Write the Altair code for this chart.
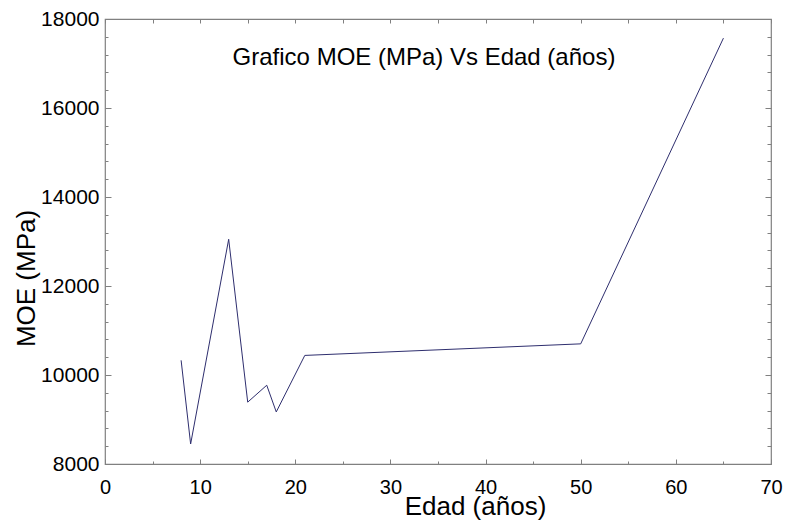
import altair as alt
import pandas as pd

# Data
edad = [8, 9, 13, 15, 17, 18, 21, 50, 65]
moe = [10330, 8450, 13050, 9390, 9770, 9170, 10440, 10700, 17570]

x_major = [0, 10, 20, 30, 40, 50, 60, 70]
x_minor = [5, 15, 25, 35, 45, 55, 65]
x_all = list(range(0, 71, 5))
y_major = [8000, 10000, 12000, 14000, 16000, 18000]
y_all = list(range(8000, 18001, 400))
y_minor = [v for v in y_all if v % 2000 != 0]

df = pd.DataFrame({"edad": edad, "moe": moe})

FONT = "Liberation Sans"
GRAY = "#808080"
LINE = "#2e2e6e"

xs = alt.Scale(domain=[0, 70], nice=False, zero=False)
ys = alt.Scale(domain=[8000, 18000], nice=False, zero=False)


def tick_axis(orient, values, size):
    return alt.Axis(orient=orient, values=values, labels=False, domain=False,
                    grid=False, ticks=True, tickSize=alt.ExprRef(expr=str(-size)),
                    tickColor=GRAY, tickWidth=1, title=None)


main = alt.Chart(df).mark_line(color=LINE, strokeWidth=1).encode(
    x=alt.X("edad:Q", scale=xs, axis=alt.Axis(
        orient="bottom", values=x_major, ticks=False, domain=False, grid=False,
        format="d",
        labelFont=FONT, labelFontSize=20, labelColor="black",
        labelBaseline="alphabetic", labelPadding=29, labelFlush=False,
        labelOverlap=False, labelBound=False,
        title="Edad (años)", titleFont=FONT, titleFontSize=26,
        titleFontWeight="normal", titleColor="black",
        titleAlign="center", titleBaseline="alphabetic", titleX=370, titleY=50)),
    y=alt.Y("moe:Q", scale=ys, axis=alt.Axis(
        orient="left", values=y_major, ticks=False, domain=False, grid=False,
        format="d",
        labelFont=FONT, labelFontSize=21, labelColor="black",
        labelAlign="right", labelBaseline="middle", labelPadding=6,
        labelFlush=False, labelOverlap=False, labelBound=False,
        title="MOE (MPa)", titleFont=FONT, titleFontSize=26,
        titleFontWeight="normal", titleColor="black", titleAngle=270,
        titleAlign="center", titleBaseline="alphabetic", titleX=-71, titleY=259)),
    order="edad:Q",
)


def ghost(xaxis, yaxis):
    return alt.Chart(df).mark_line(strokeOpacity=0).encode(
        x=alt.X("edad:Q", scale=xs, axis=xaxis),
        y=alt.Y("moe:Q", scale=ys, axis=yaxis),
    )


l2 = ghost(tick_axis("bottom", x_major, 5), tick_axis("left", y_major, 6))
l3 = ghost(tick_axis("bottom", x_minor, 3), tick_axis("left", y_minor, 3))
l4 = ghost(tick_axis("top", x_all, 4), tick_axis("right", y_minor, 4))
l5 = ghost(None, tick_axis("right", y_major, 6))

chart = alt.layer(main, l2, l3, l4, l5).resolve_axis(
    x="independent", y="independent"
).properties(
    width=666, height=445,
    padding={"left": 97, "top": 11, "right": 12, "bottom": 56},
    autosize="none",
    title=alt.TitleParams(
        text="Grafico MOE (MPa) Vs Edad (años)", font=FONT, fontSize=24,
        fontWeight="normal", color="black", anchor="middle", frame="group",
        orient="top", baseline="alphabetic", offset=0, dx=-14, dy=81),
).configure_view(stroke=GRAY, strokeWidth=1.2)

chart.save("out.html", embed_options={"renderer": "svg", "actions": False})
